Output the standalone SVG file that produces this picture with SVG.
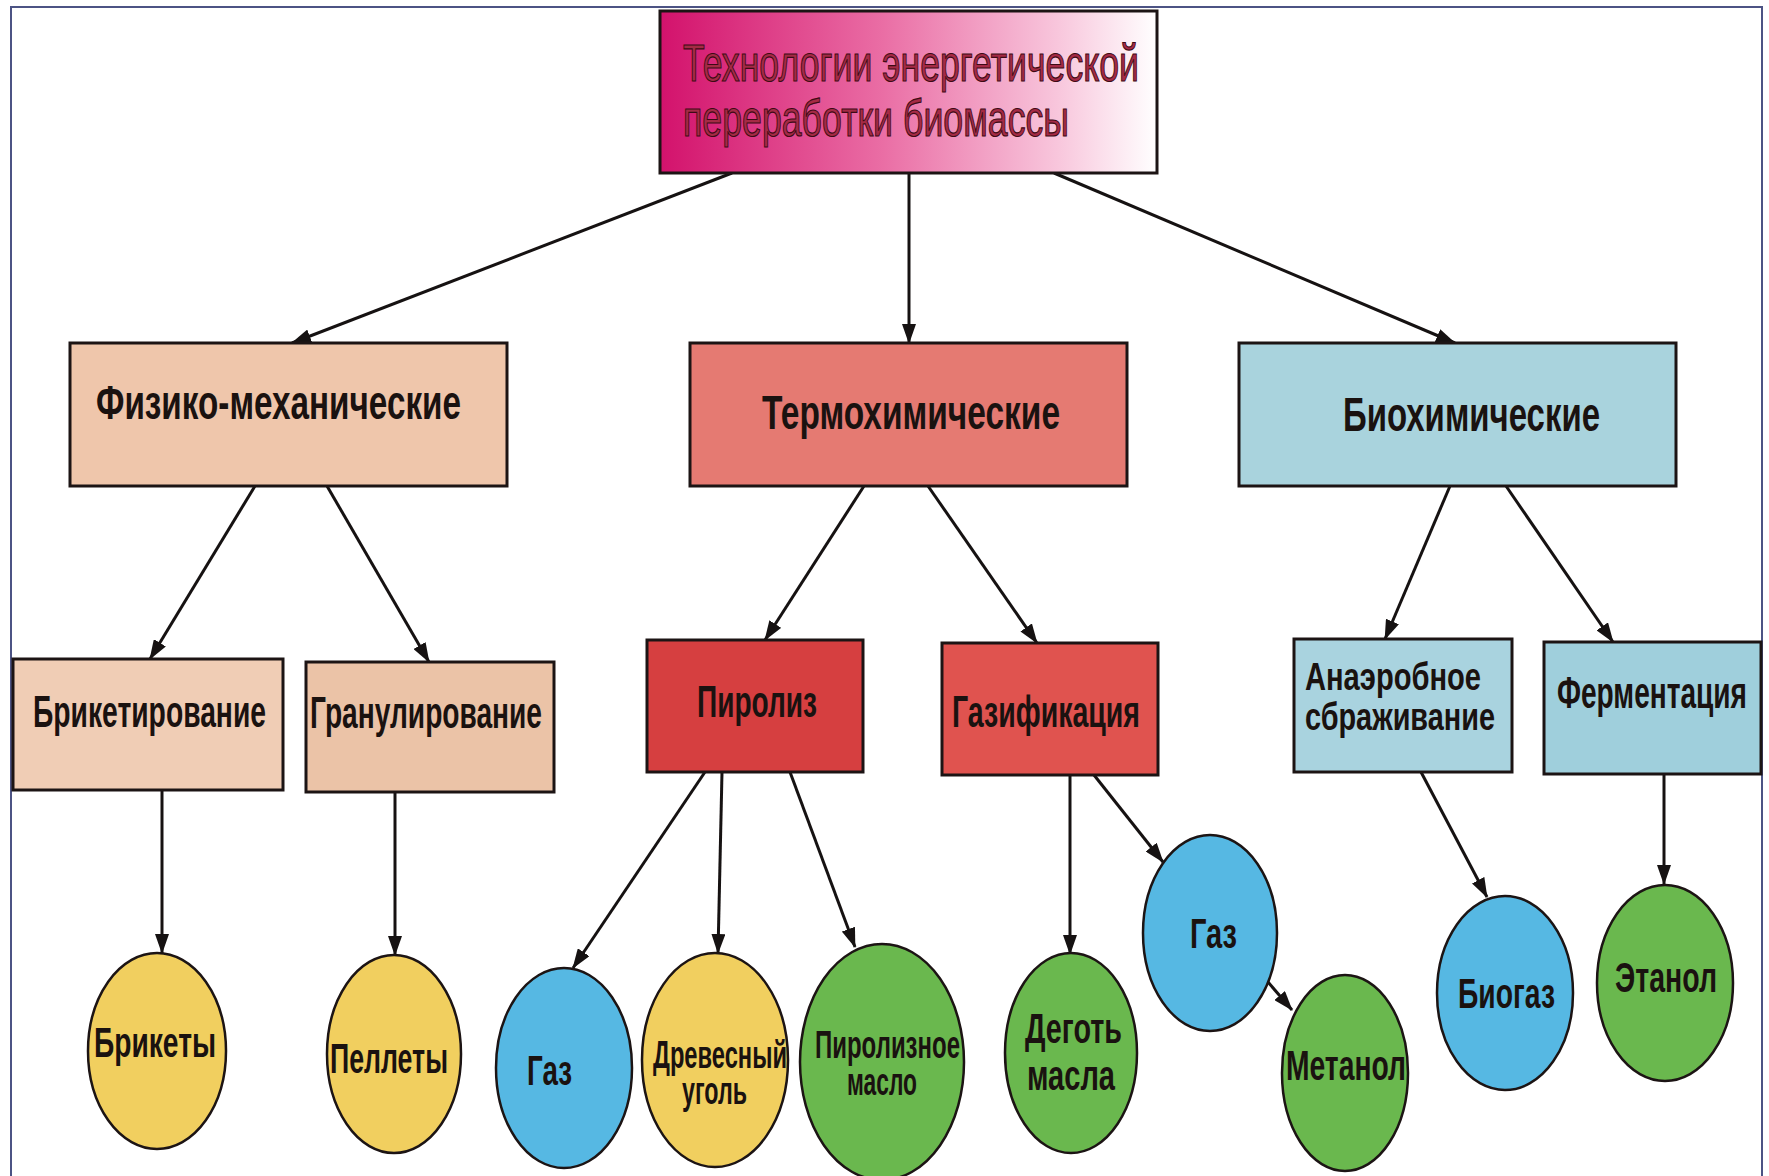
<svg xmlns="http://www.w3.org/2000/svg" width="1769" height="1176" viewBox="0 0 1769 1176">
  <defs>
    <linearGradient id="gTop" x1="0" y1="0" x2="1" y2="0">
      <stop offset="0" stop-color="#d3126c"/>
      <stop offset="0.45" stop-color="#ea6ea5"/>
      <stop offset="0.8" stop-color="#f8c6dc"/>
      <stop offset="1" stop-color="#ffffff"/>
    </linearGradient>
    <marker id="arr" markerUnits="userSpaceOnUse" markerWidth="20" markerHeight="14" refX="19" refY="7" orient="auto">
      <path d="M0,0 L20,7 L0,14 z" fill="#161212"/>
    </marker>
  </defs>
  <style>
    .box { stroke: #1c1414; stroke-width: 3; }
    .ell { stroke: #1c1414; stroke-width: 2.5; }
    .t { font-family: "Liberation Sans Narrow", "Liberation Sans", Arial, sans-serif; font-weight: bold; fill: #1a1210; }
    .t2 { font-size: 48px; }
    .t3 { font-size: 44px; }
    .t4 { font-size: 42px; }
    .tm { font-size: 38px; }
    .title { font-family: "Liberation Sans Narrow", "Liberation Sans", Arial, sans-serif; font-size: 52px; fill: #a52a45; stroke: #3d0a14; stroke-width: 1.2; }
    .con line { stroke: #161212; stroke-width: 3; fill: none; marker-end: url(#arr); }
  </style>
  <rect x="0" y="0" width="1769" height="1176" fill="#ffffff"/>
  <rect x="11" y="7" width="1751" height="1185" fill="none" stroke="#4c5384" stroke-width="2"/>

  <g class="con" id="connectors">
    <line x1="732" y1="173" x2="292" y2="343"/>
    <line x1="909" y1="173" x2="909" y2="343"/>
    <line x1="1054" y1="173" x2="1455" y2="343"/>
    <line x1="255" y1="486" x2="150" y2="659"/>
    <line x1="327" y1="486" x2="429" y2="662"/>
    <line x1="864" y1="486" x2="765" y2="640"/>
    <line x1="928" y1="486" x2="1037" y2="643"/>
    <line x1="1450" y1="486" x2="1385" y2="639"/>
    <line x1="1506" y1="486" x2="1613" y2="642"/>
    <line x1="162" y1="790" x2="162" y2="953"/>
    <line x1="395" y1="792" x2="395" y2="955"/>
    <line x1="705" y1="772" x2="573" y2="968"/>
    <line x1="722" y1="772" x2="718" y2="953"/>
    <line x1="790" y1="772" x2="855" y2="947"/>
    <line x1="1070" y1="775" x2="1070" y2="954"/>
    <line x1="1094" y1="775" x2="1163" y2="862"/>
    <line x1="1268" y1="982" x2="1292" y2="1010"/>
    <line x1="1421" y1="772" x2="1487" y2="897"/>
    <line x1="1664" y1="774" x2="1664" y2="884"/>
  </g>

  <g id="n-top">
    <rect class="box" x="660" y="11" width="497" height="162" fill="url(#gTop)"/>
    <text class="title" x="683" y="81" textLength="456" lengthAdjust="spacingAndGlyphs">Технологии энергетической</text>
    <text class="title" x="683" y="136" textLength="386" lengthAdjust="spacingAndGlyphs">переработки биомассы</text>
  </g>

  <g id="n-fizmech">
    <rect class="box" x="70" y="343" width="437" height="143" fill="#efc6ab"/>
    <text class="t t2" x="96" y="419" textLength="365" lengthAdjust="spacingAndGlyphs">Физико-механические</text>
  </g>
  <g id="n-termo">
    <rect class="box" x="690" y="343" width="437" height="143" fill="#e57a72"/>
    <text class="t t2" x="762" y="429" textLength="298" lengthAdjust="spacingAndGlyphs">Термохимические</text>
  </g>
  <g id="n-bio">
    <rect class="box" x="1239" y="343" width="437" height="143" fill="#a9d3dd"/>
    <text class="t t2" x="1343" y="431" textLength="257" lengthAdjust="spacingAndGlyphs">Биохимические</text>
  </g>

  <g id="n-briket">
    <rect class="box" x="13" y="659" width="270" height="131" fill="#f0cdb5"/>
    <text class="t t3" x="33" y="727" textLength="233" lengthAdjust="spacingAndGlyphs">Брикетирование</text>
  </g>
  <g id="n-granul">
    <rect class="box" x="306" y="662" width="248" height="130" fill="#ebc3a7"/>
    <text class="t t3" x="310" y="728" textLength="232" lengthAdjust="spacingAndGlyphs">Гранулирование</text>
  </g>
  <g id="n-piroliz">
    <rect class="box" x="647" y="640" width="216" height="132" fill="#d63f40"/>
    <text class="t t3" x="697" y="717" textLength="120" lengthAdjust="spacingAndGlyphs">Пиролиз</text>
  </g>
  <g id="n-gazif">
    <rect class="box" x="942" y="643" width="216" height="132" fill="#e0534f"/>
    <text class="t t3" x="952" y="727" textLength="188" lengthAdjust="spacingAndGlyphs">Газификация</text>
  </g>
  <g id="n-anaerob">
    <rect class="box" x="1294" y="639" width="218" height="133" fill="#a9d3df"/>
    <text class="t tm" x="1305" y="690" textLength="176" lengthAdjust="spacingAndGlyphs">Анаэробное</text>
    <text class="t tm" x="1305" y="730" textLength="190" lengthAdjust="spacingAndGlyphs">сбраживание</text>
  </g>
  <g id="n-ferment">
    <rect class="box" x="1544" y="642" width="217" height="132" fill="#9fcfdc"/>
    <text class="t t3" x="1557" y="708" textLength="190" lengthAdjust="spacingAndGlyphs">Ферментация</text>
  </g>

  <g id="n-brikety">
    <ellipse class="ell" cx="157" cy="1051" rx="69" ry="98" fill="#f1cf5f"/>
    <text class="t t4" x="94" y="1057" textLength="122" lengthAdjust="spacingAndGlyphs">Брикеты</text>
  </g>
  <g id="n-pellety">
    <ellipse class="ell" cx="394" cy="1054" rx="67" ry="99" fill="#f1cf5f"/>
    <text class="t t4" x="330" y="1073" textLength="118" lengthAdjust="spacingAndGlyphs">Пеллеты</text>
  </g>
  <g id="n-gaz1">
    <ellipse class="ell" cx="564" cy="1068" rx="68" ry="100" fill="#56b8e3"/>
    <text class="t t4" x="527" y="1085" textLength="45" lengthAdjust="spacingAndGlyphs">Газ</text>
  </g>
  <g id="n-ugol">
    <ellipse class="ell" cx="715" cy="1060" rx="73" ry="107" fill="#f1cf5f"/>
    <text class="t tm" x="653" y="1068" textLength="134" lengthAdjust="spacingAndGlyphs">Древесный</text>
    <text class="t tm" x="682" y="1104" textLength="65" lengthAdjust="spacingAndGlyphs">уголь</text>
  </g>
  <g id="n-pirmaslo">
    <ellipse class="ell" cx="882" cy="1062" rx="82" ry="118" fill="#6ab84e"/>
    <text class="t tm" x="815" y="1058" textLength="145" lengthAdjust="spacingAndGlyphs">Пиролизное</text>
    <text class="t tm" x="847" y="1095" textLength="70" lengthAdjust="spacingAndGlyphs">масло</text>
  </g>
  <g id="n-degot">
    <ellipse class="ell" cx="1071" cy="1053" rx="66" ry="100" fill="#6ab84e"/>
    <text class="t t4" x="1025" y="1043" textLength="97" lengthAdjust="spacingAndGlyphs">Деготь</text>
    <text class="t t4" x="1027" y="1090" textLength="88" lengthAdjust="spacingAndGlyphs">масла</text>
  </g>
  <g id="n-gaz2">
    <ellipse class="ell" cx="1210" cy="933" rx="67" ry="98" fill="#56b8e3"/>
    <text class="t t4" x="1190" y="948" textLength="47" lengthAdjust="spacingAndGlyphs">Газ</text>
  </g>
  <g id="n-metanol">
    <ellipse class="ell" cx="1345" cy="1073" rx="63" ry="98" fill="#6ab84e"/>
    <text class="t t4" x="1286" y="1080" textLength="120" lengthAdjust="spacingAndGlyphs">Метанол</text>
  </g>
  <g id="n-biogaz">
    <ellipse class="ell" cx="1505" cy="993" rx="68" ry="97" fill="#56b8e3"/>
    <text class="t t4" x="1458" y="1008" textLength="97" lengthAdjust="spacingAndGlyphs">Биогаз</text>
  </g>
  <g id="n-etanol">
    <ellipse class="ell" cx="1665" cy="983" rx="68" ry="98" fill="#6ab84e"/>
    <text class="t t4" x="1615" y="992" textLength="102" lengthAdjust="spacingAndGlyphs">Этанол</text>
  </g>
</svg>
